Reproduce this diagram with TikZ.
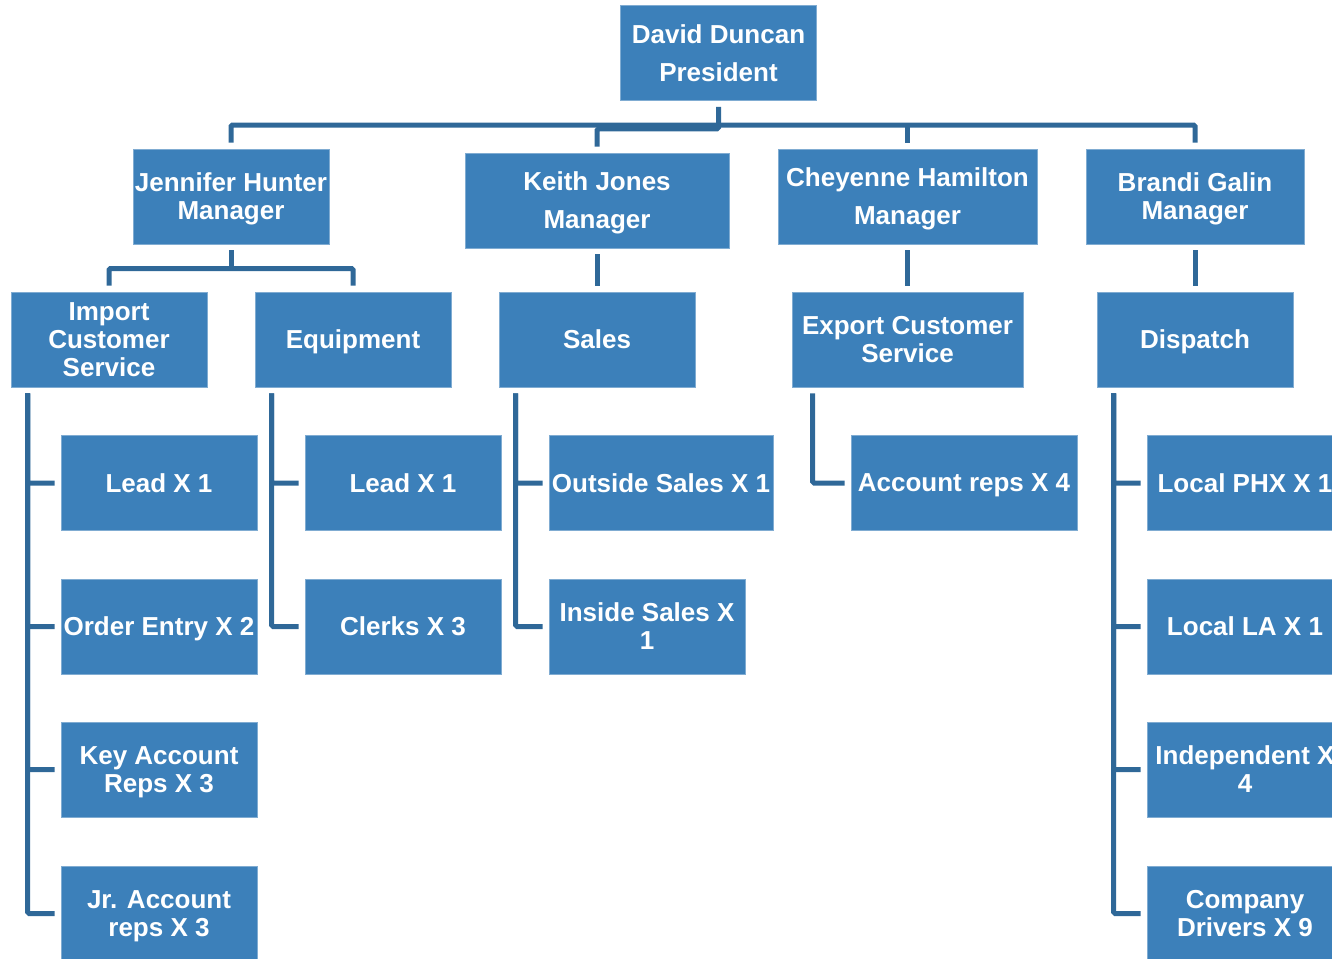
\documentclass[tikz,border=0pt]{standalone}
\usepackage{fontspec}
\setmainfont{Liberation Sans}
\definecolor{boxblue}{RGB}{60,128,186}
\definecolor{linkblue}{RGB}{47,104,152}
\begin{document}
\begin{tikzpicture}[x=1pt,y=-1pt,
  unit/.style={rectangle, fill=boxblue, draw=boxblue!65!white, line width=0.7pt,
    minimum width=196pt, minimum height=95pt, inner sep=0pt, text=white,
    text depth=0pt,
    align=center, font=\fontsize{26}{28}\selectfont\bfseries},
  conn/.style={draw=linkblue, line width=5pt, rounded corners=1.5pt}]
\useasboundingbox (0,0) rectangle (1332,958);
\clip (0,0) rectangle (1332,958);

% top level
\node[unit] (pres) at (718.5,53) {David Duncan\\[10pt]President};

% managers
\node[unit] (jen) at (231,196.5) {Jennifer Hunter\\Manager};
\node[unit, minimum width=264pt] (kei) at (597,200.5) {Keith Jones\\[10pt]Manager};
\node[unit, minimum width=259pt] (che) at (907.5,196.5) {Cheyenne Hamilton\\[10pt]Manager};
\node[unit, minimum width=218pt] (bra) at (1195,196.5) {Brandi Galin\\Manager};

% departments
\node[unit] (imp) at (109,339.5) {Import\\Customer\\Service};
\node[unit] (equ) at (353,339.5) {Equipment};
\node[unit] (sal) at (597,339.5) {Sales};
\node[unit, minimum width=231pt] (exp) at (907.5,339.5) {Export Customer\\Service};
\node[unit] (dis) at (1195,339.5) {Dispatch};

% import customer service staff
\node[unit] (impA) at (159,483) {Lead X 1};
\node[unit] (impB) at (159,626.5) {Order Entry X 2};
\node[unit] (impC) at (159,769.5) {Key Account\\Reps X 3};
\node[unit] (impD) at (159,913.5) {Jr. Account\\reps X 3};

% equipment staff
\node[unit] (equA) at (403,483) {Lead X 1};
\node[unit] (equB) at (403,626.5) {Clerks X 3};

% sales staff
\node[unit, minimum width=224pt] (salA) at (661,483) {Outside Sales X 1};
\node[unit] (salB) at (647,626.5) {Inside Sales X\\1};

% export staff
\node[unit, minimum width=226pt] (expA) at (964,483) {Account reps X 4};

% dispatch staff
\node[unit] (disA) at (1245,483) {Local PHX X 1};
\node[unit] (disB) at (1245,626.5) {Local LA X 1};
\node[unit] (disC) at (1245,769.5) {Independent X\\4};
\node[unit] (disD) at (1245,913.5) {Company\\Drivers X 9};

% president to managers
\coordinate (bus) at (718.5,125);
\draw[conn] ([yshift=-6pt]pres.south) -- (bus);
\draw[conn] ([yshift=6pt]jen.north) |- (bus) -| ([yshift=6pt]bra.north);
\draw[conn] (bus -| che.north) -- ([yshift=6pt]che.north);
\draw[conn] ([yshift=-6pt]pres.south) -- ++(0,22) -| ([yshift=6pt]kei.north);

% managers to departments
\coordinate (jbus) at (231,268.5);
\draw[conn] ([yshift=-6pt]jen.south) -- (jbus);
\draw[conn] ([yshift=6pt]imp.north) |- (jbus) -| ([yshift=6pt]equ.north);
\draw[conn] ([yshift=-6pt]kei.south) -- ([yshift=6pt]sal.north);
\draw[conn] ([yshift=-6pt]che.south) -- ([yshift=6pt]exp.north);
\draw[conn] ([yshift=-6pt]bra.south) -- ([yshift=6pt]dis.north);

% departments to staff
\foreach \c in {impA,impB,impC,impD}
  \draw[conn] ([xshift=17pt,yshift=-6pt]imp.south west) |- ([xshift=-6pt]\c.west);
\foreach \c in {equA,equB}
  \draw[conn] ([xshift=17pt,yshift=-6pt]equ.south west) |- ([xshift=-6pt]\c.west);
\foreach \c in {salA,salB}
  \draw[conn] ([xshift=17pt,yshift=-6pt]sal.south west) |- ([xshift=-6pt]\c.west);
\draw[conn] ([xshift=21pt,yshift=-6pt]exp.south west) |- ([xshift=-6pt]expA.west);
\foreach \c in {disA,disB,disC,disD}
  \draw[conn] ([xshift=17pt,yshift=-6pt]dis.south west) |- ([xshift=-6pt]\c.west);
\end{tikzpicture}
\end{document}
